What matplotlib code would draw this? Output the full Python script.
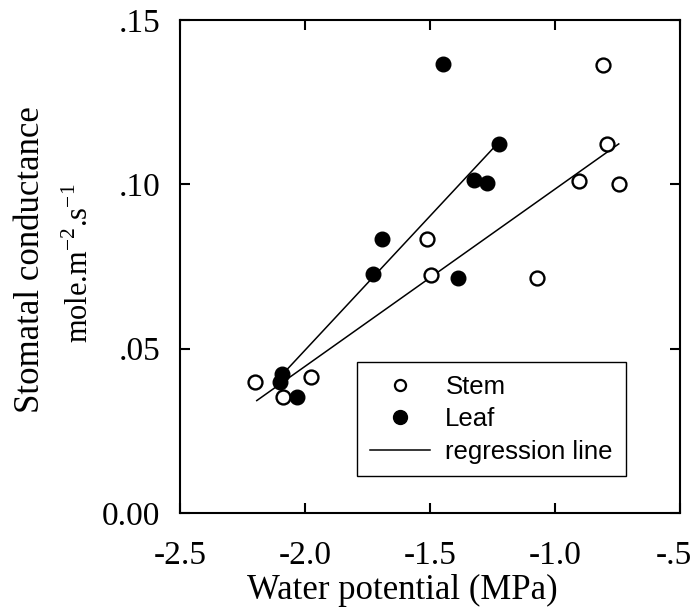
import matplotlib
matplotlib.use("Agg")
import matplotlib.pyplot as plt
import matplotlib.transforms as mtransforms
from matplotlib.lines import Line2D

# ---- data ----
stem_x = [-0.809, -0.791, -0.905, -0.745, -1.513, -1.497, -1.071, -2.200, -2.087, -1.976]
stem_y = [0.1362, 0.1123, 0.1011, 0.1002, 0.0834, 0.0724, 0.0714, 0.0399, 0.0354, 0.0415]

leaf_x = [-1.449, -1.223, -1.324, -1.271, -1.693, -1.727, -1.389, -2.091, -2.100, -2.033]
leaf_y = [0.1365, 0.1123, 0.1013, 0.1003, 0.0834, 0.0726, 0.0714, 0.0423, 0.0400, 0.0354]

# regression line end points
stem_fit_x = [-2.193, -0.745]
stem_fit_y = [0.0342, 0.1123]
leaf_fit_x = [-2.080, -1.247]
leaf_fit_y = [0.0430, 0.1110]

x_ticks = [-2.5, -2.0, -1.5, -1.0, -0.5]
x_tick_labels = ["-2.5", "-2.0", "-1.5", "-1.0", "-.5"]
y_ticks = [0.0, 0.05, 0.10, 0.15]
y_tick_labels = ["0.00", ".05", ".10", ".15"]

serif = "Liberation Serif"
sans = "Liberation Sans"

fig = plt.figure(figsize=(6.95, 6.08), dpi=100)
ax = fig.add_axes([180/695, 1-513/608, 500/695, 493/608])

ax.plot(stem_fit_x, stem_fit_y, color="black", lw=1.1, zorder=2)
ax.plot(leaf_fit_x, leaf_fit_y, color="black", lw=1.1, zorder=2)
ax.plot(stem_x, stem_y, linestyle="none", marker="o", ms=10, mfc="white",
        mec="black", mew=1.7, zorder=3)
ax.plot(leaf_x, leaf_y, linestyle="none", marker="o", ms=10.5, mfc="black",
        mec="black", mew=1.0, zorder=3)

ax.set_xlim(-2.5, -0.5)
ax.set_ylim(0.0, 0.15)
ax.set_xticks(x_ticks)
ax.set_xticklabels(x_tick_labels, fontfamily=serif, fontsize=24)
ax.set_yticks(y_ticks)
ax.set_yticklabels(y_tick_labels, fontfamily=serif, fontsize=24)
ax.tick_params(axis="both", direction="in", length=7, width=1.5,
               top=True, right=True)
ax.tick_params(axis="x", pad=20)
ax.tick_params(axis="y", pad=14)
for s in ax.spines.values():
    s.set_linewidth(1.5)

# nudge the last x tick label left so it stays inside the figure
last = ax.get_xticklabels()[-1]
last.set_transform(last.get_transform() +
                   mtransforms.ScaledTranslation(-6/100, 0, fig.dpi_scale_trans))

# axis labels
fig.text(402/695, 1-590/608, "Water potential (MPa)", fontfamily=serif,
         fontsize=25, ha="center", va="center")
fig.text(31/695, 1-260/608, "Stomatal conductance", fontfamily=serif,
         fontsize=25, ha="center", va="center", rotation=90)
fig.text(80/695, 1-263/608, r"mole.m$^{\mathregular{-2}}$.s$^{\mathregular{-1}}$",
         fontfamily=serif, fontsize=22, ha="center", va="center", rotation=90)

handles = [
    Line2D([], [], linestyle="none", marker="o", ms=8, mfc="white", mec="black", mew=1.6),
    Line2D([], [], linestyle="none", marker="o", ms=10, mfc="black", mec="black"),
    Line2D([], [], color="black", lw=1.1),
]
labels = ["Stem", "Leaf", "regression line"]
leg = ax.legend(handles, labels, loc="upper left",
                bbox_to_anchor=((356.7-180)/500, (513-361.7)/493),
                borderaxespad=0, frameon=True, fancybox=False,
                edgecolor="black", framealpha=1,
                prop={"family": sans, "size": 18.5},
                handlelength=2.35, handletextpad=0.6, borderpad=0.5,
                labelspacing=0.33)
leg.get_frame().set_linewidth(1.0)

fig.savefig("out.png", dpi=100)
